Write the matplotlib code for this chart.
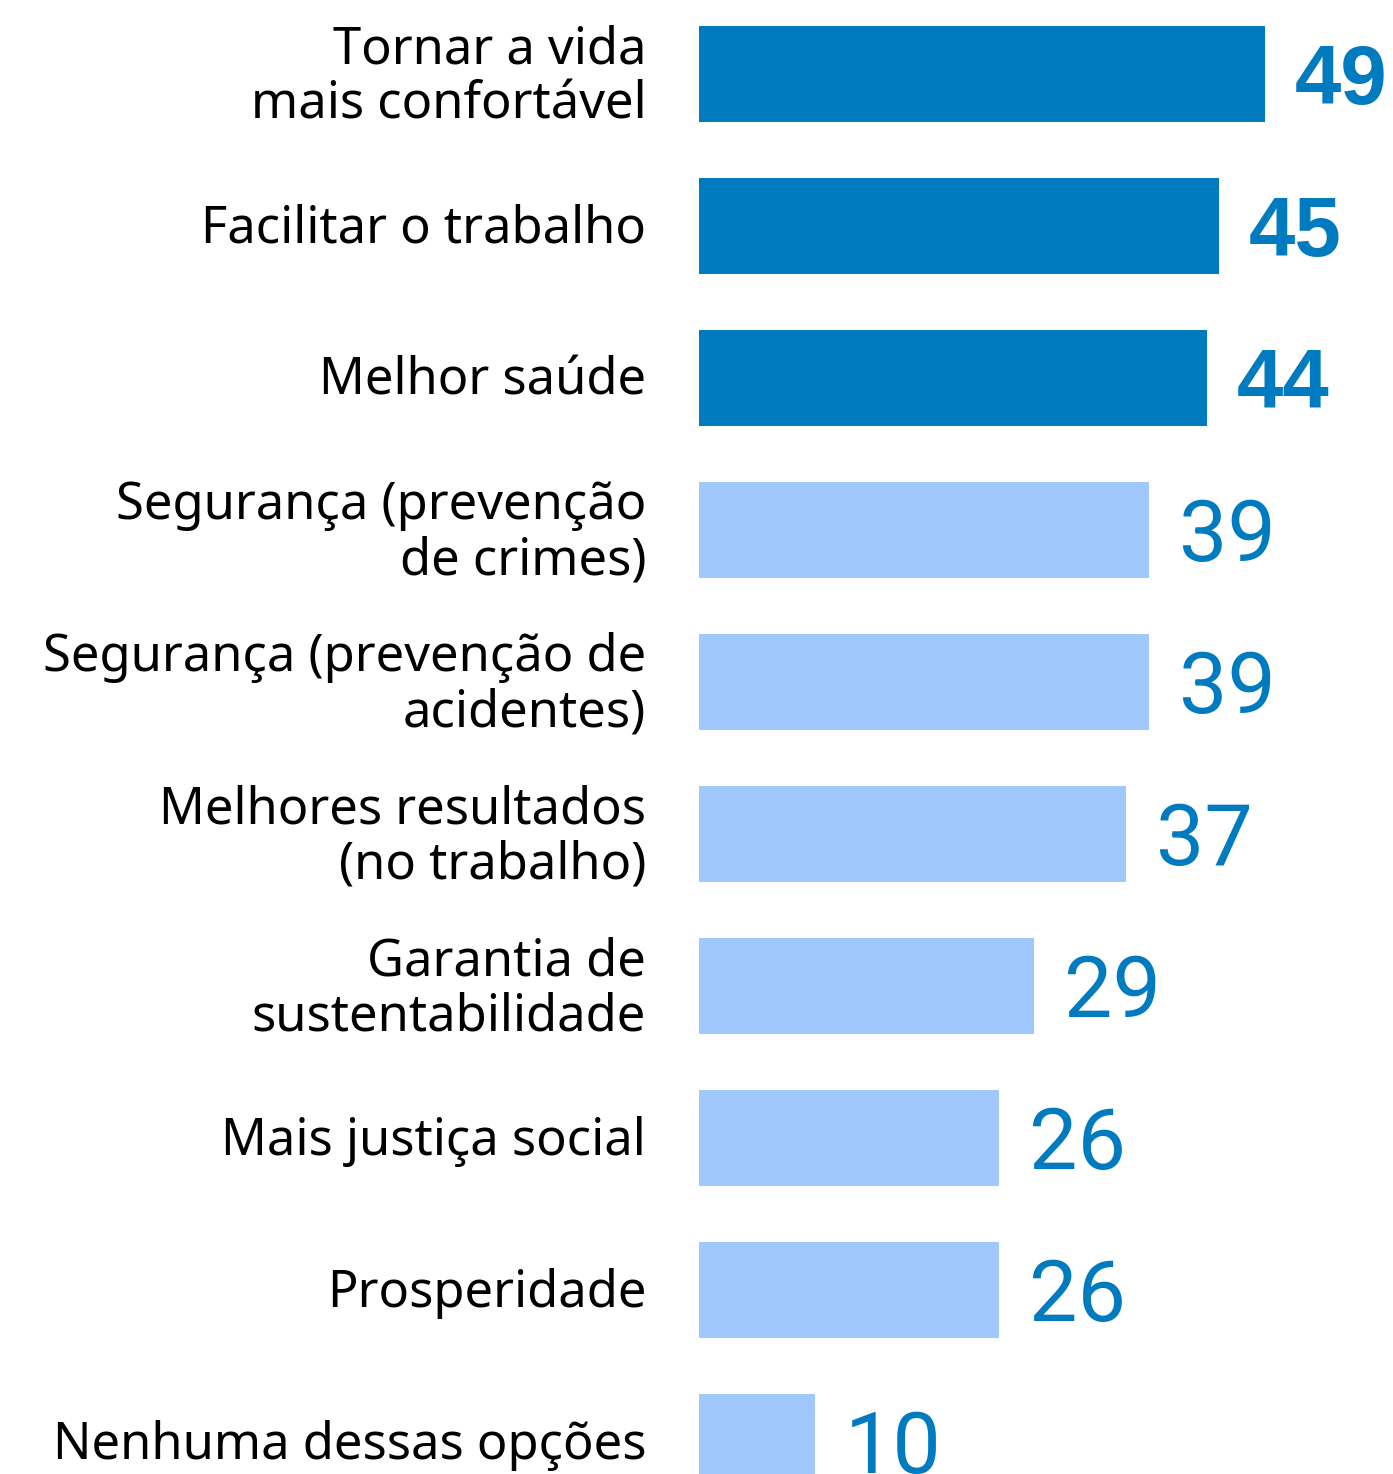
import matplotlib
matplotlib.use('Agg')
import matplotlib.pyplot as plt

# Survey categories (top to bottom) and percentages
categories = [
    "Tornar a vida\nmais confortável",
    "Facilitar o trabalho",
    "Melhor saúde",
    "Segurança (prevenção\nde crimes)",
    "Segurança (prevenção de\nacidentes)",
    "Melhores resultados\n(no trabalho)",
    "Garantia de\nsustentabilidade",
    "Mais justiça social",
    "Prosperidade",
    "Nenhuma dessas opções",
]
values = [49, 45, 44, 39, 39, 37, 29, 26, 26, 10]
highlight = [True, True, True, False, False, False, False, False, False, False]

DARK = '#007BC0'
LIGHT = '#A0C8FD'

fig = plt.figure(figsize=(13.93, 14.74), dpi=100)
# axes begins where bars start, spans full height
ax = fig.add_axes([699 / 1393, 0, 694 / 1393, 1])

pos = list(range(len(values)))
colors = [DARK if h else LIGHT for h in highlight]
ax.barh(pos, values, height=96 / 152, color=colors, linewidth=0)

ax.set_xlim(0, 694 / 11.55)
ax.set_ylim((1474 - 74) / 152, -74 / 152)
ax.axis('off')

for i, (lab, v, h) in enumerate(zip(categories, values, highlight)):
    ax.annotate(lab, xy=(0, i), xytext=(-38, -2.5), textcoords='offset points',
                ha='right', va='center', fontsize=36.5, family='Noto Sans',
                color='#000000', linespacing=1.12, annotation_clip=False)
    if h:
        ax.annotate(str(v), xy=(v, i), xytext=(21.6, -21.6), textcoords='offset points',
                    ha='left', va='baseline', fontsize=60, family='Liberation Sans',
                    fontweight='bold', color=DARK, annotation_clip=False)
    else:
        ax.annotate(str(v), xy=(v, i), xytext=(21.6, -22), textcoords='offset points',
                    ha='left', va='baseline', fontsize=62, family='Roboto',
                    color=DARK, annotation_clip=False)

fig.savefig('out.png', dpi=100)
